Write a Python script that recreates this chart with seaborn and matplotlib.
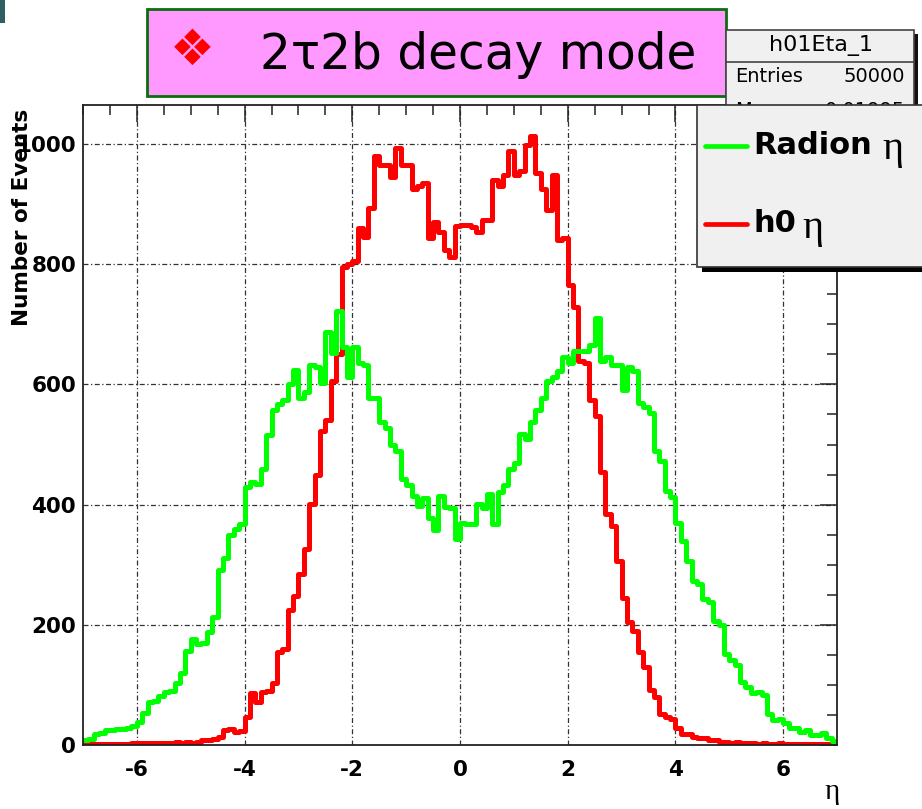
import numpy as np
import pandas as pd
import matplotlib
matplotlib.use('Agg')
import matplotlib.pyplot as plt
from matplotlib.patches import Rectangle
from matplotlib.lines import Line2D
from matplotlib.ticker import MultipleLocator
import seaborn as sns

# 140 bins of width 0.1 from -7 to 7
N_BINS = 140
ETA_RANGE = (-7, 7)

RADION_COUNTS = [
    8, 10, 19, 20, 25, 25, 27, 27, 28, 31,
    39, 53, 72, 73, 81, 89, 90, 103, 120, 157,
    176, 168, 170, 188, 213, 292, 311, 350, 359, 367,
    429, 438, 435, 460, 516, 558, 568, 574, 600, 624,
    578, 588, 632, 629, 602, 687, 653, 723, 663, 612,
    663, 636, 632, 578, 578, 537, 527, 500, 489, 442,
    432, 415, 398, 411, 377, 357, 415, 396, 394, 343,
    370, 367, 367, 401, 394, 418, 367, 421, 432, 459,
    469, 517, 510, 537, 557, 578, 605, 612, 622, 646,
    636, 656, 656, 656, 666, 710, 639, 645, 632, 632,
    591, 629, 622, 569, 562, 552, 489, 472, 423, 412,
    370, 340, 307, 273, 268, 243, 238, 207, 199, 152,
    141, 133, 105, 97, 86, 88, 83, 52, 41, 44,
    36, 28, 28, 22, 25, 17, 17, 20, 11, 6,
]

H0_COUNTS = [
    1, 1, 2, 1, 1, 1, 2, 1, 2, 3,
    3, 4, 3, 4, 4, 3, 4, 5, 4, 5,
    4, 5, 8, 9, 10, 13, 25, 26, 22, 23,
    47, 86, 72, 88, 90, 104, 154, 160, 224, 248,
    285, 326, 401, 449, 523, 540, 605, 650, 795, 800,
    805, 860, 845, 894, 980, 965, 965, 945, 993, 965,
    965, 925, 931, 935, 843, 870, 853, 823, 812, 863,
    865, 865, 862, 853, 874, 874, 941, 931, 948, 989,
    948, 955, 999, 1013, 952, 925, 890, 948, 840, 843,
    765, 729, 639, 636, 574, 547, 455, 384, 364, 306,
    245, 204, 190, 155, 130, 91, 80, 52, 47, 44,
    28, 19, 19, 14, 11, 11, 8, 8, 5, 5,
    4, 5, 4, 3, 3, 2, 3, 2, 2, 3,
    2, 2, 1, 2, 2, 1, 2, 1, 1, 1,
]

X_TICKS = [-6, -4, -2, 0, 2, 4, 6]
Y_TICKS = [0, 200, 400, 600, 800, 1000]

W, H = 922, 809


def fx(px):
    return px / W


def fy(py):
    return 1 - py / H


width = (ETA_RANGE[1] - ETA_RANGE[0]) / N_BINS
centers = ETA_RANGE[0] + width * (np.arange(N_BINS) + 0.5)
radion = pd.DataFrame({"eta": centers, "count": RADION_COUNTS})
h0 = pd.DataFrame({"eta": centers, "count": H0_COUNTS})

sns.set_style("white")
plt.rcParams['font.family'] = ['DejaVu Sans']
plt.rcParams['axes.unicode_minus'] = False
for key in ['text.color', 'axes.labelcolor', 'xtick.color', 'ytick.color']:
    plt.rcParams[key] = 'black'

fig = plt.figure(figsize=(W / 100, H / 100), dpi=100)
ax = fig.add_axes([fx(83), fy(745), fx(837) - fx(83), fy(105) - fy(745)])

grid_style = dict(color='#333333', lw=0.9, ls=(0, (4, 2, 1, 2)))
for x in X_TICKS:
    ax.axvline(x, zorder=0, **grid_style)
for y in Y_TICKS[1:]:
    ax.axhline(y, zorder=0, **grid_style)

sns.histplot(data=h0, x="eta", weights="count", bins=N_BINS, binrange=ETA_RANGE,
             element="step", fill=False, color='#ff0000', linewidth=3.6, ax=ax)
sns.histplot(data=radion, x="eta", weights="count", bins=N_BINS, binrange=ETA_RANGE,
             element="step", fill=False, color='#00ff00', linewidth=3.6, ax=ax)

ax.set_xlim(-7, 7)
ax.set_ylim(0, 1065)
ax.set_xticks(X_TICKS)
ax.set_yticks(Y_TICKS)
ax.xaxis.set_minor_locator(MultipleLocator(0.5))
ax.yaxis.set_minor_locator(MultipleLocator(50))
ax.tick_params(which='both', direction='in', top=True, right=True,
               color='#222222', width=1.1)
ax.tick_params(which='major', length=12)
ax.tick_params(which='minor', length=7)
ax.tick_params(axis='x', which='major', pad=11)
ax.tick_params(axis='y', which='major', pad=5)
for lab in ax.get_xticklabels() + ax.get_yticklabels():
    lab.set_fontweight('bold')
    lab.set_fontsize(15.5)
ax.set_xlabel("")
ax.set_ylabel("")
for sp in ax.spines.values():
    sp.set_color('#222222')
    sp.set_linewidth(1.3)

# axis titles
fig.text(fx(22), fy(217), "Number of Events", rotation=90, ha='center', va='center',
         fontsize=15.5, fontweight='bold', zorder=6)
fig.text(fx(832), fy(805), "η", ha='center', va='bottom', fontsize=21,
         family='Liberation Serif', zorder=6)

# small slide mark in the corner
fig.patches.append(Rectangle((0, fy(23)), fx(5), fy(0) - fy(23), transform=fig.transFigure,
                             fc='#2f5f63', ec='none', zorder=5))

# title box
fig.patches.append(Rectangle((fx(147), fy(96)), fx(726) - fx(147), fy(9) - fy(96),
                             transform=fig.transFigure, fc='#ff99ff', ec='#0a6e0a',
                             lw=2, zorder=5))
fig.text(fx(192), fy(51), "❖", ha='center', va='center', fontsize=36,
         color='#ff0000', zorder=6)
fig.text(fx(478), fy(55), "2τ2b decay mode", ha='center', va='center',
         fontsize=35, color='black', zorder=6)

# stats box
fig.patches.append(Rectangle((fx(730), fy(125)), fx(918) - fx(730), fy(34) - fy(125),
                             transform=fig.transFigure, fc='#111111', ec='none', zorder=7))
fig.patches.append(Rectangle((fx(726), fy(121)), fx(914) - fx(726), fy(30) - fy(121),
                             transform=fig.transFigure, fc='#f0f0f0', ec='#444444',
                             lw=1.2, zorder=7))
fig.add_artist(Line2D([fx(726), fx(914)], [fy(62), fy(62)], transform=fig.transFigure,
                      color='#444444', lw=1.2, zorder=8))
fig.text(fx(821), fy(45), "h01Eta_1", ha='center', va='center', fontsize=16, zorder=8)
fig.text(fx(735), fy(77), "Entries", ha='left', va='center', fontsize=14, zorder=8)
fig.text(fx(905), fy(77), "50000", ha='right', va='center', fontsize=14, zorder=8)
fig.text(fx(735), fy(110), "Mean", ha='left', va='center', fontsize=14, zorder=8)
fig.text(fx(905), fy(110), "0.01995", ha='right', va='center', fontsize=14, zorder=8)

# legend box with shadow
fig.patches.append(Rectangle((fx(702), fy(272)), fx(930) - fx(702), fy(110) - fy(272),
                             transform=fig.transFigure, fc='#000000', ec='none', zorder=9))
fig.patches.append(Rectangle((fx(697), fy(267)), fx(930) - fx(697), fy(105) - fy(267),
                             transform=fig.transFigure, fc='#f0f0f0', ec='#333333',
                             lw=1.2, zorder=9))
for ypix, col, name, eta_x in [(146, '#00ff00', "Radion", 882), (224, '#ff0000', "h0", 802)]:
    fig.add_artist(Line2D([fx(705), fx(747)], [fy(ypix), fy(ypix)], transform=fig.transFigure,
                          color=col, lw=3.4, zorder=10))
    fig.text(fx(753), fy(ypix), name, ha='left', va='center', fontsize=22,
             fontweight='bold', zorder=10)
    fig.text(fx(eta_x), fy(ypix + 4), "η", ha='left', va='center', fontsize=29,
             family='Liberation Serif', zorder=10)

fig.savefig("out.png", dpi=100)
